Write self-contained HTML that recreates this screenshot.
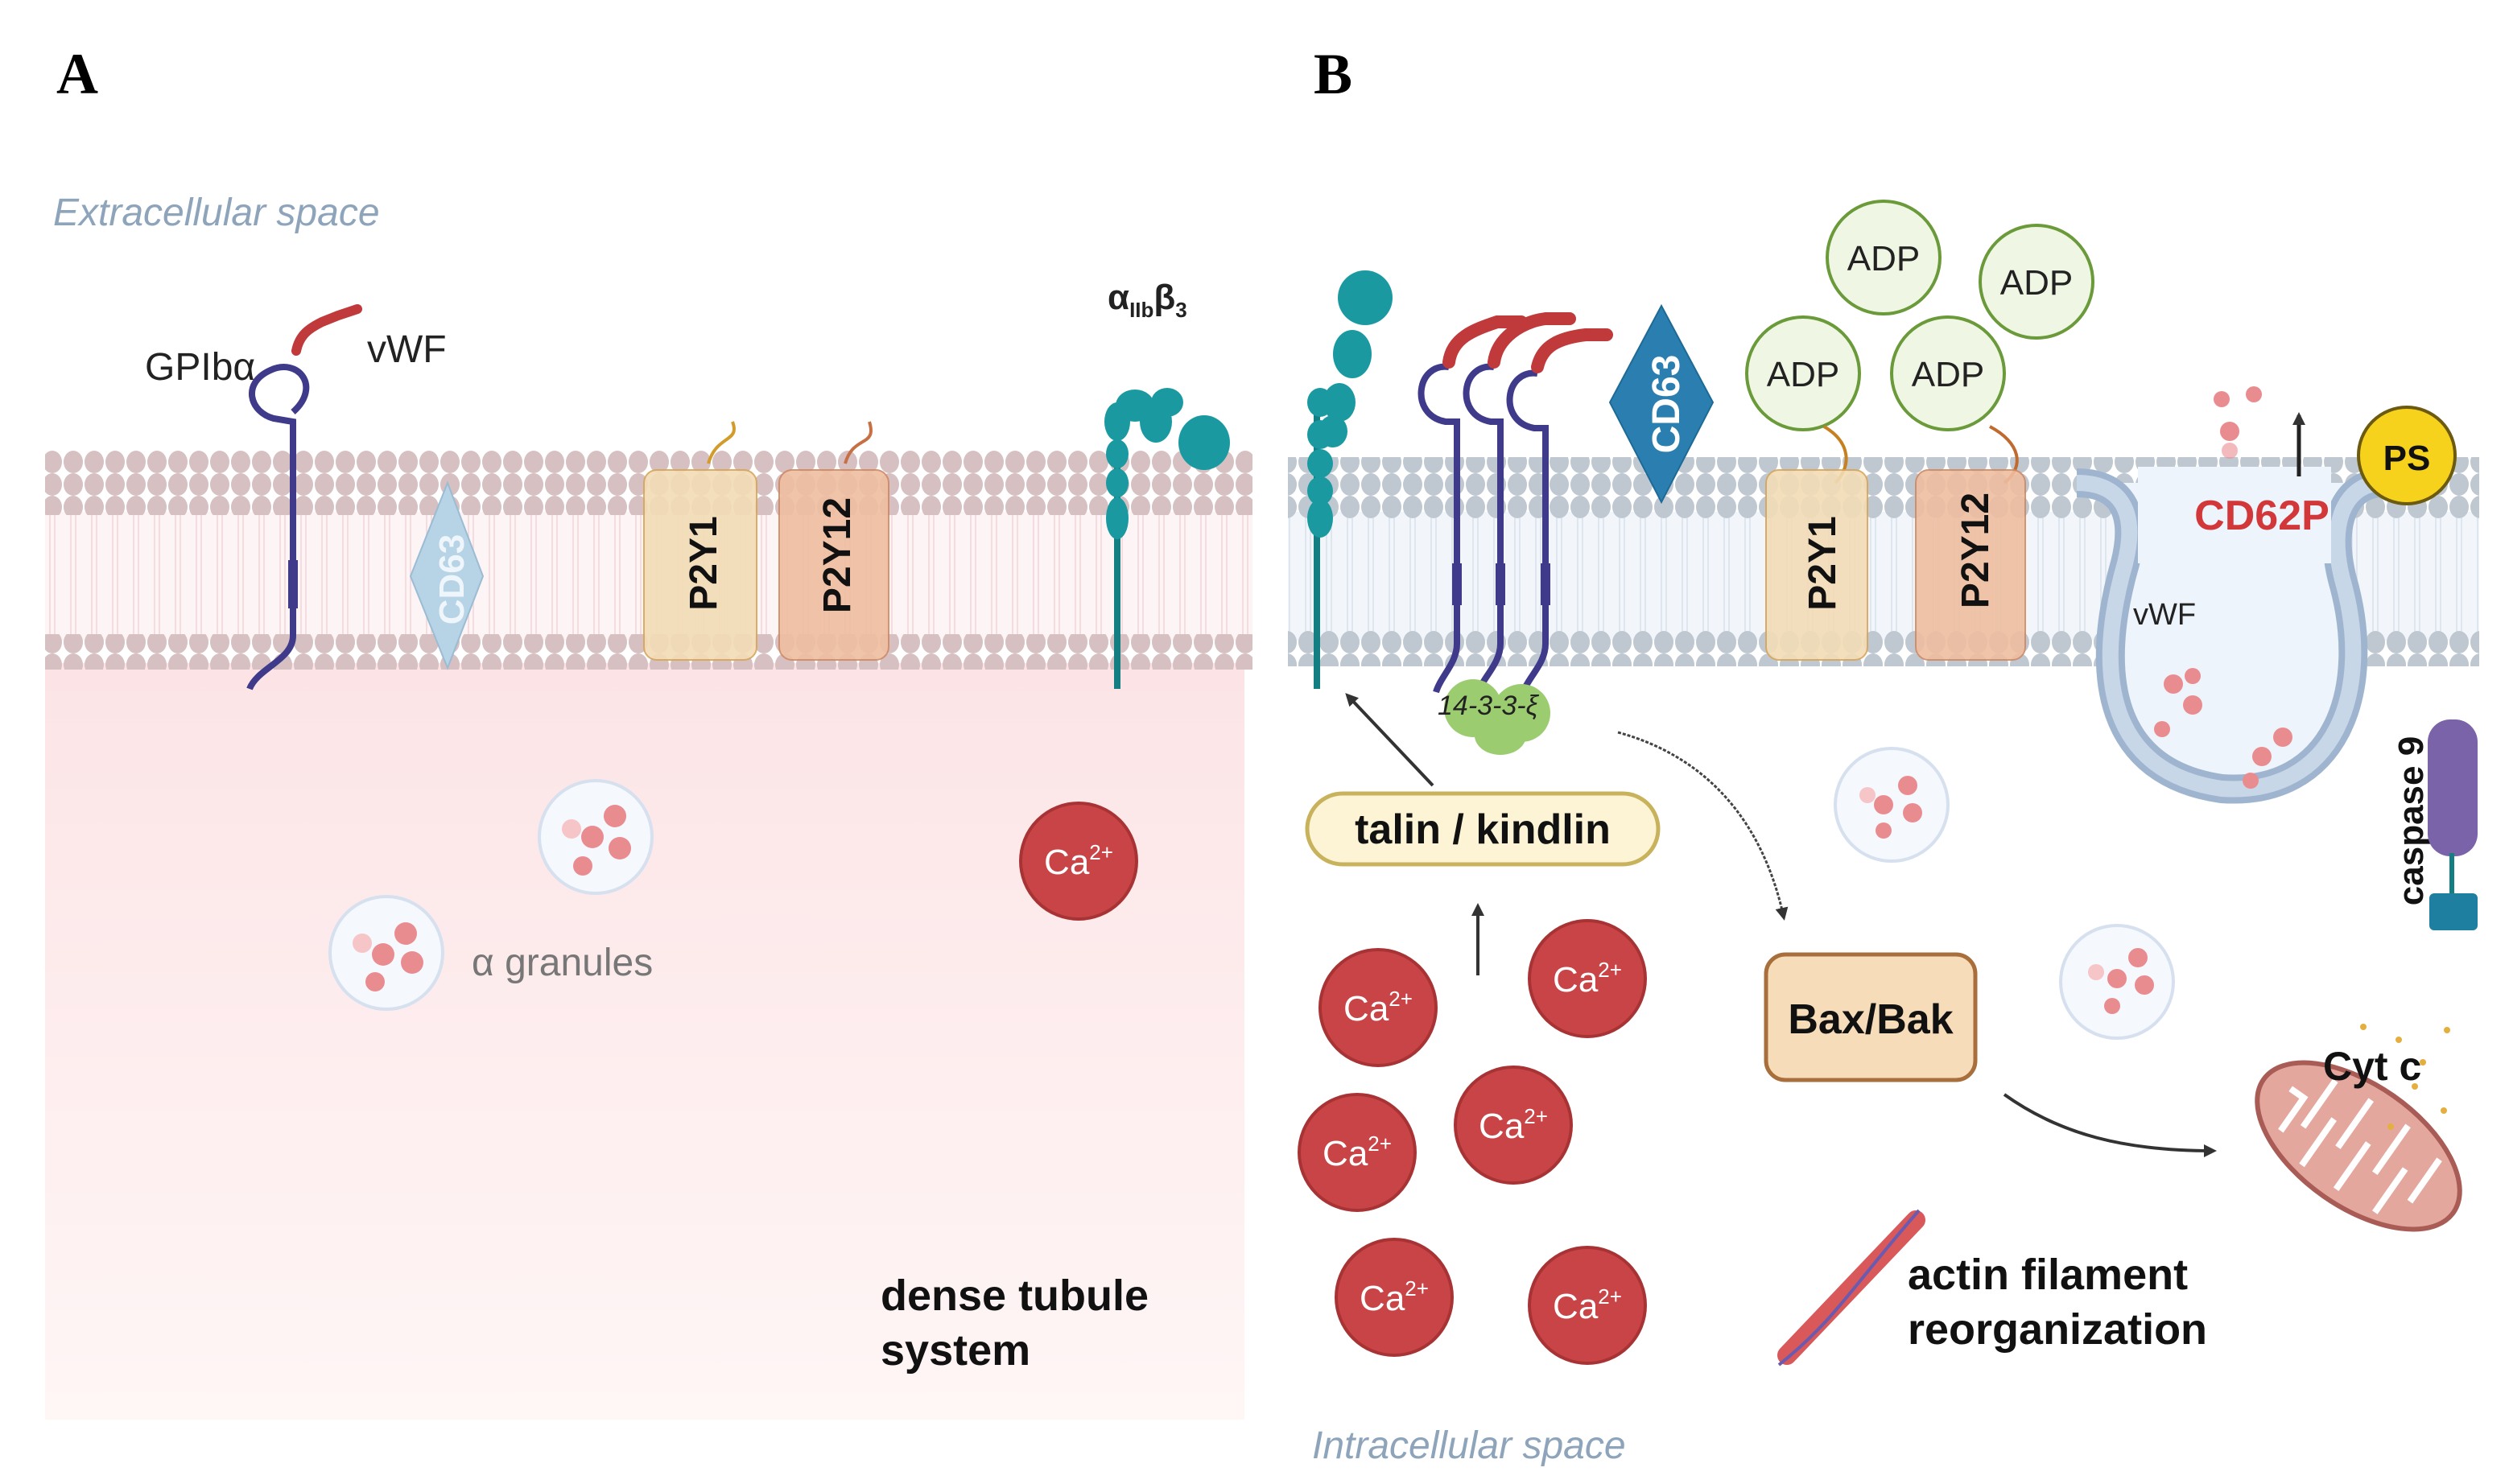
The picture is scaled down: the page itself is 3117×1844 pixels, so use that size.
<!DOCTYPE html>
<html><head><meta charset="utf-8"><style>
html,body{margin:0;padding:0;background:#fff;}
svg{display:block}
text{font-family:"Liberation Sans",sans-serif}
</style></head><body>
<svg width="3117" height="1844" viewBox="0 0 1558.5 922" xmlns="http://www.w3.org/2000/svg">
<defs>
<pattern id="hA" width="13" height="14" patternUnits="userSpaceOnUse"><ellipse cx="6.5" cy="7" rx="6" ry="7" fill="#d6c0c2"/></pattern>
<pattern id="tA" width="13" height="40" patternUnits="userSpaceOnUse"><path d="M5 0V40M8 0V40" stroke="#f4d6d8" stroke-width="0.8"/></pattern>
<pattern id="hB" width="13" height="14" patternUnits="userSpaceOnUse"><ellipse cx="6.5" cy="7" rx="6" ry="7" fill="#bfc8d1"/></pattern>
<pattern id="tB" width="13" height="40" patternUnits="userSpaceOnUse"><path d="M5 0V40M8 0V40" stroke="#d8e2ec" stroke-width="0.8"/></pattern>
<linearGradient id="pinkA" x1="0" y1="0" x2="0" y2="1"><stop offset="0" stop-color="#fce4e6"/><stop offset="1" stop-color="#fff6f6"/></linearGradient>
<marker id="ar" markerWidth="8" markerHeight="8" refX="6" refY="4" orient="auto" markerUnits="userSpaceOnUse"><path d="M0 0L8 4L0 8Z" fill="#333"/></marker>
</defs>

<text x="35" y="58" font-weight="bold" font-size="36" style="font-family:'Liberation Serif',serif">A</text>
<text x="816" y="58" font-weight="bold" font-size="36" style="font-family:'Liberation Serif',serif">B</text>
<text x="33" y="140" font-size="24" font-style="italic" fill="#8ea4bb">Extracellular space</text>

<rect x="28" y="412" width="745" height="470" fill="url(#pinkA)"/>
<rect x="28" y="318" width="750" height="80" fill="#fdf5f5"/>
<rect x="28" y="318" width="750" height="80" fill="url(#tA)"/>
<rect x="28" y="280" width="750" height="40" fill="url(#hA)"/>
<rect x="28" y="394" width="750" height="22" fill="url(#hA)"/>

<path d="M182 256 C200 240 185 222 168 230 C150 238 155 256 170 260 L182 262 L182 395 C182 410 160 415 155 428" fill="none" stroke="#3f3a8a" stroke-width="4"/>
<rect x="179" y="348" width="6" height="30" fill="#3f3a8a"/>
<path d="M184 218 C186 208 192 204 200 200 L210 196 L222 192" fill="none" stroke="#c0393b" stroke-width="6" stroke-linecap="round"/>
<text x="90" y="236" font-size="24" fill="#222">GPIbα</text>
<text x="228" y="225" font-size="24" fill="#222">vWF</text>

<polygon points="278,300 300,358 278,415 255,358" fill="#b7d3e6" stroke="#9bbcd3"/>
<text transform="translate(288,360) rotate(-90)" font-size="22" font-weight="bold" fill="#eef6fb" text-anchor="middle">CD63</text>

<path d="M440 288 C445 270 460 275 455 262" fill="none" stroke="#d39b2a" stroke-width="2"/>
<rect x="400" y="292" width="70" height="118" rx="8" fill="#f3dcb6" stroke="#d7a55b" opacity="0.9"/>
<text transform="translate(445,350) rotate(-90)" font-size="24" font-weight="bold" fill="#111" text-anchor="middle">P2Y1</text>
<path d="M525 288 C530 270 545 278 540 262" fill="none" stroke="#c87045" stroke-width="2"/>
<rect x="484" y="292" width="68" height="118" rx="8" fill="#efbea0" stroke="#cf8a65" opacity="0.9"/>
<text transform="translate(528,345) rotate(-90)" font-size="24" font-weight="bold" fill="#111" text-anchor="middle">P2Y12</text>

<line x1="694" y1="255" x2="694" y2="428" stroke="#137f82" stroke-width="4"/>
<g fill="#1a9aa0">
<ellipse cx="694" cy="262" rx="8" ry="12"/><ellipse cx="694" cy="282" rx="7" ry="9"/><ellipse cx="694" cy="300" rx="7" ry="9"/><ellipse cx="694" cy="322" rx="7" ry="13"/>
<ellipse cx="705" cy="252" rx="12" ry="10"/><ellipse cx="718" cy="262" rx="10" ry="13"/><ellipse cx="725" cy="250" rx="10" ry="9"/>
<ellipse cx="748" cy="275" rx="16" ry="17"/>
</g>
<text x="688" y="192" font-size="22" font-weight="bold" fill="#222">α<tspan font-size="13" dy="5">IIb</tspan><tspan dy="-5">β</tspan><tspan font-size="13" dy="5">3</tspan></text>

<g>
<circle cx="370" cy="520" r="35" fill="#f5f8fd" stroke="#d6e0ee" stroke-width="2"/>
<circle cx="382" cy="507" r="7" fill="#e98c90"/><circle cx="368" cy="520" r="7" fill="#e98c90"/><circle cx="385" cy="527" r="7" fill="#e98c90"/><circle cx="362" cy="538" r="6" fill="#e98c90"/><circle cx="355" cy="515" r="6" fill="#f6c5c7"/>
<circle cx="240" cy="592" r="35" fill="#f5f8fd" stroke="#d6e0ee" stroke-width="2"/>
<circle cx="252" cy="580" r="7" fill="#e98c90"/><circle cx="238" cy="593" r="7" fill="#e98c90"/><circle cx="256" cy="598" r="7" fill="#e98c90"/><circle cx="233" cy="610" r="6" fill="#e98c90"/><circle cx="225" cy="586" r="6" fill="#f6c5c7"/>
</g>
<text x="293" y="606" font-size="24" fill="#777">α granules</text>
<circle cx="670" cy="535" r="36" fill="#c94446" stroke="#a83335" stroke-width="2"/>
<text x="670" y="543" font-size="22" fill="#fff" text-anchor="middle">Ca<tspan font-size="13" dy="-9">2+</tspan></text>
<text x="547" y="814" font-size="27" font-weight="bold" fill="#111">dense tubule</text>
<text x="547" y="848" font-size="27" font-weight="bold" fill="#111">system</text>

<rect x="800" y="318" width="740" height="80" fill="#f2f6fb"/>
<rect x="800" y="318" width="740" height="80" fill="url(#tB)"/>
<rect x="800" y="284" width="740" height="38" fill="url(#hB)"/>
<rect x="800" y="392" width="740" height="22" fill="url(#hB)"/>

<path d="M1290 300 C1310 300 1330 310 1320 350 C1300 420 1310 480 1380 490 C1450 495 1475 430 1455 360 C1445 320 1460 300 1480 300" fill="#eef4fb" stroke="#9fb5cf" stroke-width="18"/>
<path d="M1290 300 C1310 300 1330 310 1320 350 C1300 420 1310 480 1380 490 C1450 495 1475 430 1455 360 C1445 320 1460 300 1480 300" fill="none" stroke="#c8d7e8" stroke-width="10"/>
<rect x="1328" y="290" width="120" height="60" fill="#eef4fb"/>
<text x="1325" y="388" font-size="19" fill="#222">vWF</text>
<g fill="#e98c90"><circle cx="1350" cy="425" r="6"/><circle cx="1362" cy="438" r="6"/><circle cx="1343" cy="453" r="5"/><circle cx="1362" cy="420" r="5"/>
<circle cx="1405" cy="470" r="6"/><circle cx="1418" cy="458" r="6"/><circle cx="1398" cy="485" r="5"/>
<circle cx="1385" cy="268" r="6"/><circle cx="1400" cy="245" r="5"/><circle cx="1380" cy="248" r="5"/><circle cx="1385" cy="280" r="5" opacity="0.6"/></g>
<line x1="1428" y1="296" x2="1428" y2="258" stroke="#222" stroke-width="2.5" marker-end="url(#ar)"/>
<text x="1405" y="329" font-size="26" font-weight="bold" fill="#d2383a" text-anchor="middle">CD62P</text>
<circle cx="1495" cy="283" r="30" fill="#f7d21c" stroke="#6b5a10" stroke-width="2"/>
<text x="1495" y="292" font-size="22" font-weight="bold" fill="#111" text-anchor="middle">PS</text>

<line x1="818" y1="255" x2="818" y2="428" stroke="#137f82" stroke-width="4"/>
<g fill="#1a9aa0"><circle cx="848" cy="185" r="17"/><ellipse cx="840" cy="220" rx="12" ry="15"/><ellipse cx="832" cy="250" rx="10" ry="12"/><ellipse cx="828" cy="268" rx="9" ry="10"/>
<ellipse cx="820" cy="250" rx="8" ry="9"/><ellipse cx="820" cy="270" rx="8" ry="9"/><ellipse cx="820" cy="288" rx="8" ry="9"/><ellipse cx="820" cy="305" rx="8" ry="9"/><ellipse cx="820" cy="322" rx="8" ry="12"/></g>

<g fill="none" stroke="#3f3a8a" stroke-width="4">
<path d="M900 228 C880 225 875 258 898 262 L905 262 L905 400 C905 412 895 420 892 430"/>
<path d="M928 228 C908 225 903 258 926 262 L932 262 L932 400 C932 412 922 420 918 430"/>
<path d="M955 232 C935 229 930 262 953 266 L960 266 L960 400 C960 412 950 420 946 430"/>
</g>
<g fill="#3f3a8a"><rect x="902" y="350" width="6" height="26"/><rect x="929" y="350" width="6" height="26"/><rect x="957" y="350" width="6" height="26"/></g>
<g fill="none" stroke="#c0393b" stroke-width="8" stroke-linecap="round">
<path d="M900 225 C902 210 915 205 930 200 L945 200"/><path d="M928 225 C930 210 945 200 960 198 L975 198"/><path d="M955 228 C958 215 968 210 985 208 L998 208"/>
</g>
<g fill="#9ccc70"><ellipse cx="915" cy="440" rx="18" ry="18"/><ellipse cx="945" cy="443" rx="18" ry="18"/><ellipse cx="932" cy="457" rx="16" ry="12"/></g>
<text x="893" y="444" font-size="17" font-style="italic" fill="#222">14-3-3-ξ</text>

<polygon points="1032,190 1064,250 1032,312 1000,250" fill="#2a7fb0" stroke="#1d6a96"/>
<text transform="translate(1043,251) rotate(-90)" font-size="24" font-weight="bold" fill="#fff" text-anchor="middle">CD63</text>

<g fill="#eff7e4" stroke="#6a9a3a" stroke-width="2">
<circle cx="1170" cy="160" r="35"/><circle cx="1265" cy="175" r="35"/><circle cx="1120" cy="232" r="35"/><circle cx="1210" cy="232" r="35"/></g>
<g font-size="22" fill="#222" text-anchor="middle"><text x="1170" y="168">ADP</text><text x="1265" y="183">ADP</text><text x="1120" y="240">ADP</text><text x="1210" y="240">ADP</text></g>

<path d="M1133 265 C1150 275 1150 290 1140 300" fill="none" stroke="#c68020" stroke-width="2"/>
<path d="M1236 265 C1255 275 1258 290 1245 300" fill="none" stroke="#c06a30" stroke-width="2"/>
<rect x="1097" y="292" width="63" height="118" rx="8" fill="#f3dcb6" stroke="#d7a55b" opacity="0.9"/>
<text transform="translate(1140,350) rotate(-90)" font-size="24" font-weight="bold" fill="#111" text-anchor="middle">P2Y1</text>
<rect x="1190" y="292" width="68" height="118" rx="8" fill="#efbea0" stroke="#cf8a65" opacity="0.9"/>
<text transform="translate(1235,342) rotate(-90)" font-size="24" font-weight="bold" fill="#111" text-anchor="middle">P2Y12</text>

<text transform="translate(1505,510) rotate(-90)" font-size="22" font-weight="bold" fill="#111" text-anchor="middle">caspase 9</text>
<rect x="1508" y="447" width="31" height="85" rx="14" fill="#7a63a8"/>
<line x1="1523" y1="530" x2="1523" y2="556" stroke="#137f82" stroke-width="3"/>
<rect x="1509" y="555" width="30" height="23" rx="3" fill="#1f7fa0"/>

<rect x="812" y="493" width="218" height="44" rx="22" fill="#fcf4d4" stroke="#c9b25c" stroke-width="2.5"/>
<text x="921" y="524" font-size="26" font-weight="bold" fill="#111" text-anchor="middle">talin / kindlin</text>
<line x1="890" y1="488" x2="837" y2="432" stroke="#333" stroke-width="2" marker-end="url(#ar)"/>
<line x1="918" y1="606" x2="918" y2="563" stroke="#333" stroke-width="2" marker-end="url(#ar)"/>
<path d="M1005 455 C1060 470 1095 510 1108 570" fill="none" stroke="#444" stroke-width="1.5" stroke-dasharray="2,1" marker-end="url(#ar)"/>

<rect x="1097" y="593" width="130" height="78" rx="12" fill="#f6dcb8" stroke="#a86e3c" stroke-width="2.5"/>
<text x="1162" y="642" font-size="26" font-weight="bold" fill="#111" text-anchor="middle">Bax/Bak</text>
<path d="M1245 680 C1280 705 1320 715 1375 715" fill="none" stroke="#333" stroke-width="2" marker-end="url(#ar)"/>

<g>
<circle cx="1175" cy="500" r="35" fill="#f5f8fd" stroke="#d6e0ee" stroke-width="2"/>
<circle cx="1185" cy="488" r="6" fill="#e98c90"/><circle cx="1170" cy="500" r="6" fill="#e98c90"/><circle cx="1188" cy="505" r="6" fill="#e98c90"/><circle cx="1170" cy="516" r="5" fill="#e98c90"/><circle cx="1160" cy="494" r="5" fill="#f6c5c7"/>
<circle cx="1315" cy="610" r="35" fill="#f5f8fd" stroke="#d6e0ee" stroke-width="2"/>
<circle cx="1328" cy="595" r="6" fill="#e98c90"/><circle cx="1315" cy="608" r="6" fill="#e98c90"/><circle cx="1332" cy="612" r="6" fill="#e98c90"/><circle cx="1312" cy="625" r="5" fill="#e98c90"/><circle cx="1302" cy="604" r="5" fill="#f6c5c7"/>
</g>

<g fill="#c94446" stroke="#a83335" stroke-width="2">
<circle cx="856" cy="626" r="36"/><circle cx="986" cy="608" r="36"/><circle cx="843" cy="716" r="36"/><circle cx="940" cy="699" r="36"/><circle cx="866" cy="806" r="36"/><circle cx="986" cy="811" r="36"/></g>
<g font-size="22" fill="#fff" text-anchor="middle">
<text x="856" y="634">Ca<tspan font-size="13" dy="-9">2+</tspan></text>
<text x="986" y="616">Ca<tspan font-size="13" dy="-9">2+</tspan></text>
<text x="843" y="724">Ca<tspan font-size="13" dy="-9">2+</tspan></text>
<text x="940" y="707">Ca<tspan font-size="13" dy="-9">2+</tspan></text>
<text x="866" y="814">Ca<tspan font-size="13" dy="-9">2+</tspan></text>
<text x="986" y="819">Ca<tspan font-size="13" dy="-9">2+</tspan></text>
</g>

<g transform="translate(1465,712) rotate(35)">
<ellipse cx="0" cy="0" rx="72" ry="38" fill="#e4a79e" stroke="#a85c55" stroke-width="3"/>
<path d="M-55 -5 L-45 -5 L-45 20 M-35 -25 L-35 10 M-22 30 L-22 -5 M-10 -28 L-10 8 M4 30 L4 -5 M18 -28 L18 8 M32 28 L32 -5 M46 -22 L46 10" stroke="#fff" stroke-width="4" fill="none"/>
</g>
<g fill="#e3b040"><circle cx="1468" cy="638" r="2"/><circle cx="1490" cy="646" r="2"/><circle cx="1505" cy="660" r="2"/><circle cx="1520" cy="640" r="2"/><circle cx="1500" cy="675" r="2"/><circle cx="1518" cy="690" r="2"/><circle cx="1485" cy="700" r="2"/></g>
<text x="1443" y="671" font-size="25" font-weight="bold" fill="#111">Cyt c</text>

<path d="M1110 842 L1190 758" stroke="#d9585a" stroke-width="12" stroke-linecap="round"/>
<path d="M1105 848 C1140 820 1150 800 1192 752" stroke="#6a5ab0" stroke-width="2" fill="none"/>
<text x="1185" y="801" font-size="27" font-weight="bold" fill="#111">actin filament</text>
<text x="1185" y="835" font-size="27" font-weight="bold" fill="#111">reorganization</text>
<text x="815" y="906" font-size="24" font-style="italic" fill="#8ea4bb">Intracellular space</text>
</svg>
</body></html>
